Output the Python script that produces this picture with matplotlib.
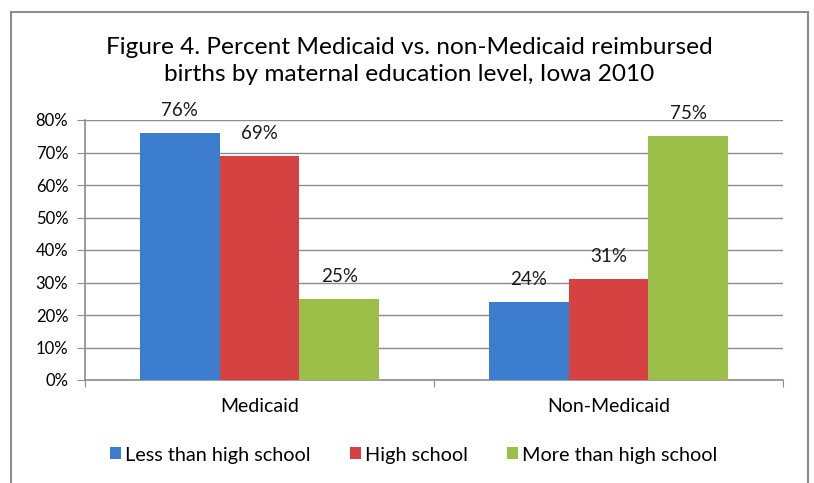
import matplotlib.pyplot as plt
from matplotlib.patches import Rectangle
import numpy as np

groups = ["Medicaid", "Non-Medicaid"]
series = ["Less than high school", "High school", "More than high school"]
values = [
    [76, 24],
    [69, 31],
    [25, 75],
]
colors = ["#3d7dd0", "#d64242", "#9bbf48"]

plt.rcParams['font.family'] = ['Lato', 'DejaVu Sans']

fig = plt.figure(figsize=(8.14, 4.83), dpi=100)
# chart frame
fig.patches.append(Rectangle((11 / 814, -0.05), 797 / 814, 1 - 12 / 483 + 0.05,
                             transform=fig.transFigure, fill=False,
                             edgecolor="#8c8c8c", lw=1.5))

ax = fig.add_axes([85 / 814, 1 - 380 / 483, (783 - 85) / 814, 260 / 483])

centers = np.array([0.5, 1.5])
w = 0.229
for i, (name, vals) in enumerate(zip(series, values)):
    xs = centers + (i - 1) * w
    bars = ax.bar(xs, vals, width=w, color=colors[i], edgecolor="none",
                  label=name, zorder=3)
    for x, v in zip(xs, vals):
        ax.annotate(f"{v}%", (x, v), xytext=(0, 10), textcoords="offset points",
                    ha="center", va="bottom", fontsize=13.5, color="#1a1a1a")

ax.set_xlim(0, 2)
ax.set_ylim(0, 80)
ax.set_yticks(range(0, 81, 10))
ax.set_yticklabels([f"{t}%" for t in range(0, 81, 10)], fontsize=12)
ax.set_xticks([0, 1, 2])
ax.set_xticklabels([])
ax.set_xticks(centers, minor=True)
ax.set_xticklabels(groups, minor=True, fontsize=14)
ax.tick_params(axis="x", which="minor", length=0, pad=13)
ax.tick_params(axis="x", which="major", length=5, color="#8c8c8c", direction="out")
ax.tick_params(axis="y", length=6, color="#8c8c8c", direction="out", pad=6)
ax.grid(axis="y", color="#8c8c8c", lw=1, zorder=0)
for s in ["top", "right"]:
    ax.spines[s].set_visible(False)
for s in ["left", "bottom"]:
    ax.spines[s].set_color("#8c8c8c")
    ax.spines[s].set_linewidth(1.2)

fig.text(0.503, 1 - 61 / 483,
         "Figure 4. Percent Medicaid vs. non-Medicaid reimbursed\nbirths by maternal education level, Iowa 2010",
         ha="center", va="center", fontsize=17.6, linespacing=1.3)

fig.legend(loc="center", bbox_to_anchor=(0.508, 1 - 455 / 483), ncol=3,
           frameon=False, fontsize=14.3, handlelength=0.55, handleheight=0.55,
           handletextpad=0.2, columnspacing=2.0)

fig.savefig("out.png", dpi=100)
